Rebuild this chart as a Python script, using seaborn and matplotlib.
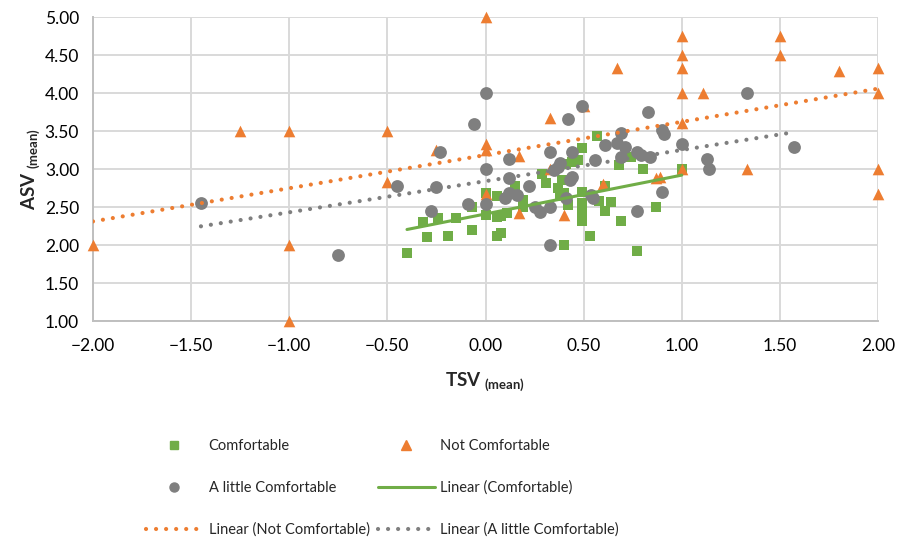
import matplotlib
matplotlib.use("Agg")
import matplotlib.pyplot as plt
from matplotlib.lines import Line2D
import pandas as pd
import seaborn as sns

# Mean thermal sensation (TSV) vs mean air sensation (ASV) per comfort group
comfortable_tsv = [-0.40, -0.32, -0.30, -0.24, -0.19, -0.15, -0.07, -0.07, 0.00, 0.00,
                   0.06, 0.06, 0.08, 0.06, 0.08, 0.11, 0.15, 0.19, 0.19, 0.29,
                   0.31, 0.37, 0.38, 0.39, 0.40, 0.41, 0.44, 0.47, 0.49, 0.57,
                   0.42, 0.49, 0.49, 0.49, 0.49, 0.49, 0.53, 0.40, 0.58, 0.61,
                   0.64, 0.61, 0.68, 0.69, 0.74, 0.77, 0.80, 0.87, 1.00]
comfortable_asv = [1.90, 2.30, 2.10, 2.36, 2.12, 2.36, 2.20, 2.50, 2.40, 2.68,
                   2.64, 2.37, 2.38, 2.12, 2.16, 2.42, 2.77, 2.59, 2.50, 2.93,
                   2.81, 2.75, 2.64, 2.85, 2.68, 3.07, 3.09, 3.12, 3.28, 3.43,
                   2.52, 2.70, 2.55, 2.50, 2.42, 2.31, 2.12, 2.00, 2.58, 2.78,
                   2.57, 2.45, 3.05, 2.31, 3.16, 1.92, 3.00, 2.50, 3.00]

not_comfortable_tsv = [-2.00, -1.25, -1.00, -1.00, -1.00, -0.50, -0.50, -0.25, 0.00, 0.00,
                       0.00, 0.00, 0.17, 0.17, 0.33, 0.33, 0.40, 0.50, 0.60, 0.67,
                       0.87, 0.89, 1.00, 1.00, 1.00, 1.00, 1.00, 1.00, 1.11, 1.33,
                       1.50, 1.50, 1.80, 2.00, 2.00, 2.00, 2.00]
not_comfortable_asv = [2.00, 3.50, 3.50, 2.00, 1.00, 3.50, 2.83, 3.25, 5.00, 3.33,
                       3.25, 2.67, 3.17, 2.42, 3.67, 3.00, 2.40, 3.83, 2.80, 4.33,
                       2.88, 2.90, 4.75, 4.50, 4.33, 4.00, 3.60, 3.00, 4.00, 3.00,
                       4.75, 4.50, 4.29, 4.33, 4.00, 3.00, 2.67]

little_tsv = [-1.45, -0.75, -0.45, -0.28, -0.25, -0.23, -0.06, -0.09, 0.00, 0.00,
              0.00, 0.10, 0.12, 0.12, 0.12, 0.16, 0.22, 0.25, 0.28, 0.33,
              0.33, 0.33, 0.35, 0.37, 0.38, 0.41, 0.42, 0.43, 0.44, 0.44,
              0.49, 0.54, 0.55, 0.56, 0.61, 0.67, 0.69, 0.69, 0.71, 0.77,
              0.79, 0.77, 0.83, 0.84, 0.90, 0.91, 0.90, 1.00, 1.13, 1.14,
              1.33, 1.57]
little_asv = [2.55, 1.87, 2.78, 2.45, 2.76, 3.22, 3.59, 2.54, 4.00, 3.00,
              2.54, 2.62, 2.68, 3.13, 2.88, 2.66, 2.78, 2.50, 2.44, 2.50,
              2.00, 3.22, 2.99, 3.03, 3.08, 2.62, 3.66, 2.86, 2.90, 3.22,
              3.83, 2.66, 2.62, 3.12, 3.31, 3.34, 3.47, 3.16, 3.29, 3.22,
              3.19, 2.45, 3.75, 3.16, 3.51, 3.46, 2.70, 3.33, 3.13, 3.00,
              4.00, 3.29]

x_ticks = [-2.0, -1.5, -1.0, -0.5, 0.0, 0.5, 1.0, 1.5, 2.0]
y_ticks = [1.0, 1.5, 2.0, 2.5, 3.0, 3.5, 4.0, 4.5, 5.0]

GREEN = "#70AD47"
ORANGE = "#ED7D31"
GRAY = "#7F7F7F"

sns.set_theme(style="white")
plt.rcParams["font.family"] = ["Lato", "DejaVu Sans"]
plt.rcParams["mathtext.fontset"] = "custom"
plt.rcParams["mathtext.rm"] = "Lato"
plt.rcParams["mathtext.bf"] = "Lato:bold"
plt.rcParams["axes.unicode_minus"] = False

fig = plt.figure(figsize=(9.09, 5.39), dpi=100)
ax = fig.add_axes([93 / 909, 1 - 321 / 539, (878 - 93) / 909, (321 - 17) / 539])

groups = [
    ("Comfortable", comfortable_tsv, comfortable_asv, GREEN, "s", 60),
    ("Not Comfortable", not_comfortable_tsv, not_comfortable_asv, ORANGE, "^", 70),
    ("A little Comfortable", little_tsv, little_asv, GRAY, "o", 85),
]

for name, xs, ys, col, mk, size in groups:
    df = pd.DataFrame({"TSV": xs, "ASV": ys})
    sns.scatterplot(data=df, x="TSV", y="ASV", color=col, marker=mk, s=size,
                    linewidth=0, ax=ax, zorder=3, legend=False, clip_on=False)

LW_DOT = 3.0
dotted = (0, (0.01, 2.4))
trend_styles = {
    "Comfortable": dict(linestyle="-", linewidth=2.2),
    "Not Comfortable": dict(linestyle=dotted, linewidth=LW_DOT, dash_capstyle="round"),
    "A little Comfortable": dict(linestyle=dotted, linewidth=LW_DOT, dash_capstyle="round"),
}
for name, xs, ys, col, mk, size in groups:
    df = pd.DataFrame({"TSV": xs, "ASV": ys})
    sns.regplot(data=df, x="TSV", y="ASV", scatter=False, ci=None, truncate=True,
                color=col, ax=ax, line_kws=dict(zorder=4, **trend_styles[name]))

ax.set_xlim(-2, 2)
ax.set_ylim(1, 5)
ax.set_xticks(x_ticks)
ax.set_yticks(y_ticks)
ax.set_xticklabels([f"{v:.2f}".replace("-", "\u2212") for v in x_ticks])
ax.set_yticklabels([f"{v:.2f}" for v in y_ticks])
ax.tick_params(axis="both", length=0, labelsize=12.5, colors="#000000")
ax.tick_params(axis="x", pad=12)
ax.tick_params(axis="y", pad=10)
ax.grid(True, color="#D9D9D9", linewidth=1.4, zorder=0)
ax.set_axisbelow(True)
for side in ["top", "right"]:
    ax.spines[side].set_visible(False)
for side in ["left", "bottom"]:
    ax.spines[side].set_color("#BFBFBF")
    ax.spines[side].set_linewidth(1.4)

ax.set_xlabel(r"TSV $_{\mathbf{(mean)}}$", fontsize=13.5, fontweight="bold", labelpad=12)
ax.set_ylabel(r"ASV $_{\mathbf{(mean)}}$", fontsize=13.5, fontweight="bold", labelpad=2)

handles = [
    Line2D([], [], color=GREEN, marker="s", linestyle="none", markersize=6),
    Line2D([], [], color=GRAY, marker="o", linestyle="none", markersize=6.5),
    Line2D([], [], color=ORANGE, linestyle=dotted, linewidth=LW_DOT, dash_capstyle="round"),
    Line2D([], [], color=ORANGE, marker="^", linestyle="none", markersize=6.5),
    Line2D([], [], color=GREEN, linestyle="-", linewidth=2.2),
    Line2D([], [], color=GRAY, linestyle=dotted, linewidth=LW_DOT, dash_capstyle="round"),
]
labels = ["Comfortable", "A little Comfortable", "Linear (Not Comfortable)",
          "Not Comfortable", "Linear (Comfortable)", "Linear (A little Comfortable)"]
fig.legend(handles, labels, ncol=2, loc="upper left",
           bbox_to_anchor=(146 / 909, 1 - 439 / 539), frameon=False,
           fontsize=10.5, handlelength=3.9, handletextpad=0.4, columnspacing=0.55,
           labelspacing=1.9, borderpad=0, borderaxespad=0)

fig.savefig("out.png", dpi=100)
